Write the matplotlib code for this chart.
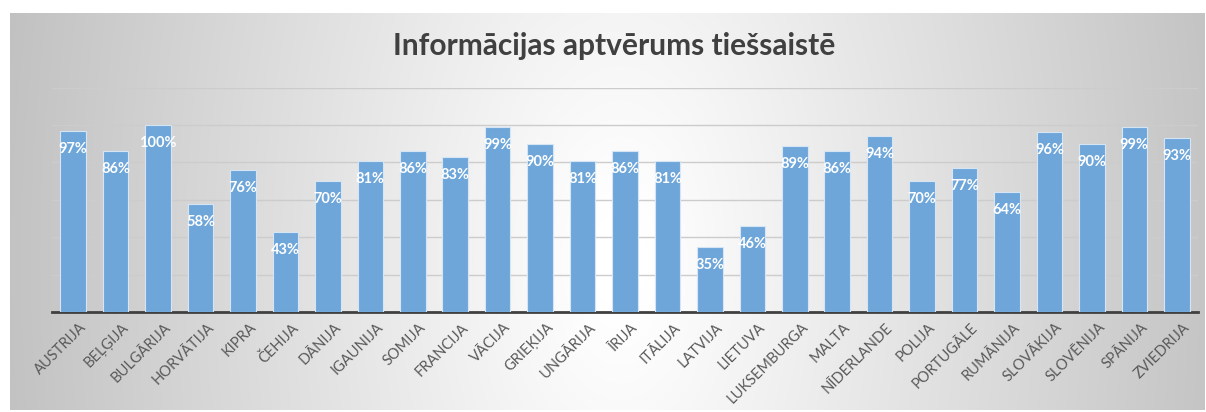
import numpy as np
import matplotlib.pyplot as plt
import matplotlib.transforms as mtransforms

# dati
valstis = ['AUSTRIJA', 'BEĻĢIJA', 'BULGĀRIJA', 'HORVĀTIJA', 'KIPRA', 'ČEHIJA', 'DĀNIJA',
           'IGAUNIJA', 'SOMIJA', 'FRANCIJA', 'VĀCIJA', 'GRIEĶIJA', 'UNGĀRIJA', 'ĪRIJA',
           'ITĀLIJA', 'LATVIJA', 'LIETUVA', 'LUKSEMBURGA', 'MALTA', 'NĪDERLANDE', 'POLIJA',
           'PORTUGĀLE', 'RUMĀNIJA', 'SLOVĀKIJA', 'SLOVĒNIJA', 'SPĀNIJA', 'ZVIEDRIJA']
procenti = [97, 86, 100, 58, 76, 43, 70, 81, 86, 83, 99, 90, 81, 86, 81, 35, 46,
            89, 86, 94, 70, 77, 64, 96, 90, 99, 93]
virsraksts = 'Informācijas aptvērums tiešsaistē'

plt.rcParams['font.family'] = ['Lato', 'DejaVu Sans']

W, H = 1206, 412
fig = plt.figure(figsize=(W / 100, H / 100), dpi=100)

# fons ar gradientu (gaišs vidū, pelēks malās)
bg = fig.add_axes([10 / W, 1 - 410 / H, 1195 / W, 397 / H])
xx, yy = np.meshgrid(np.linspace(10, 1205, 400), np.linspace(13, 410, 150))
d = np.sqrt(((xx - 620) / 600) ** 2 + ((yy - 260) / 1100) ** 2)
g = np.clip(258 - 62 * d, 192, 255) / 255
bg.imshow(np.dstack([g, g, g]), aspect='auto', extent=[0, 1, 0, 1])
bg.set_axis_off()

ax = fig.add_axes([52 / W, 1 - 312 / H, 1146 / W, 224.4 / H])
ax.patch.set_alpha(0)
x = np.arange(len(valstis))
y = np.array(procenti) / 100
ax.bar(x, y, width=0.6, color='#6fa6da', edgecolor='#d6e5f3', linewidth=0.8, zorder=3)
for xi, yi, p in zip(x, y, procenti):
    ax.annotate(f'{p}%', (xi, yi), xytext=(0, -18), textcoords='offset pixels',
                ha='center', va='center', color='white', fontsize=10.5, fontweight='bold', zorder=4)

ax.set_xlim(-0.5, len(valstis) - 0.5)
ax.set_ylim(0, 1.2)
ax.set_yticks(np.arange(0.2, 1.21, 0.2))
ax.grid(axis='y', color='#cccccc', linewidth=1, zorder=0)
ax.tick_params(axis='y', left=False, labelleft=False)
ax.tick_params(axis='x', length=0, pad=6)
ax.set_xticks(x)
ax.set_xticklabels(valstis, rotation=45, ha='right', rotation_mode='anchor',
                   fontsize=10.5, color='#595959')
nobide = mtransforms.ScaledTranslation(6 / 100, 0, fig.dpi_scale_trans)
for lbl in ax.get_xticklabels():
    lbl.set_transform(lbl.get_transform() + nobide)
for s in ['top', 'right', 'left']:
    ax.spines[s].set_visible(False)
ax.spines['bottom'].set_color('#404040')
ax.spines['bottom'].set_linewidth(2)

fig.text(614 / W, 1 - 46 / H, virsraksts, ha='center', va='center',
         fontsize=21.5, fontweight='bold', color='#404040')

fig.savefig('out.png', dpi=100)
